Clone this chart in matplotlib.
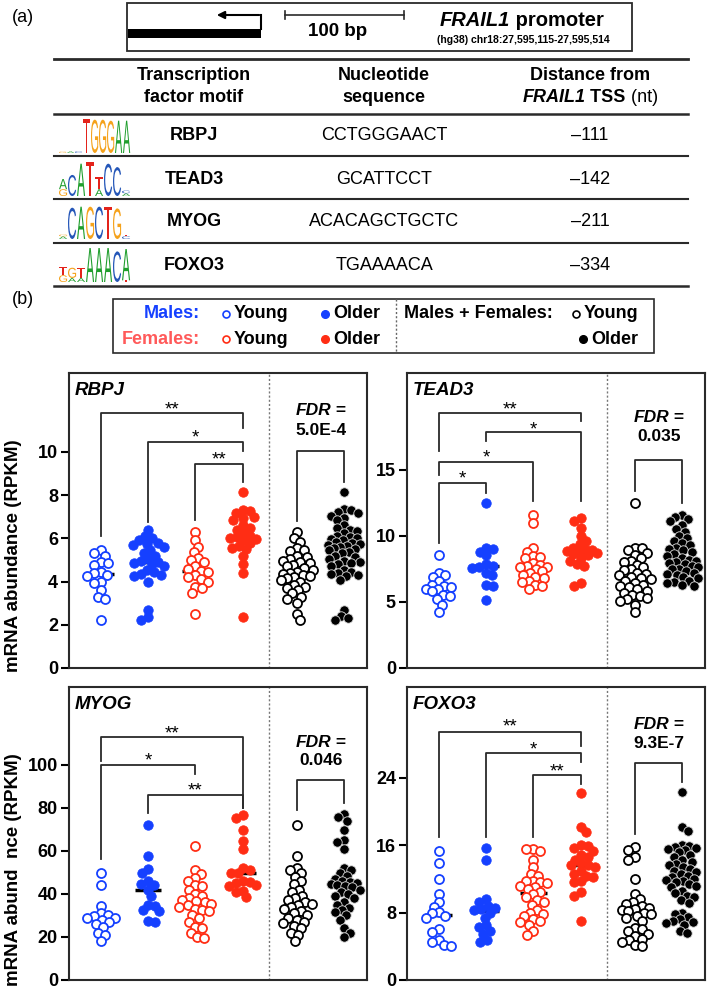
import numpy as np
import matplotlib
matplotlib.use("Agg")
import matplotlib.pyplot as plt
from matplotlib.textpath import TextPath
from matplotlib.patches import PathPatch, Rectangle
from matplotlib.font_manager import FontProperties
from matplotlib.transforms import Affine2D

plt.rcParams['font.family'] = ['Liberation Sans', 'DejaVu Sans']

# ---- table (a) ----
motifs = ['RBPJ', 'TEAD3', 'MYOG', 'FOXO3']
sequences = ['CCTGGGAACT', 'GCATTCCT', 'ACACAGCTGCTC', 'TGAAAACA']
distances = ['\u2013111', '\u2013142', '\u2013211', '\u2013334']

# sequence logos: columns of (letter, relative height), bottom to top
logos = [
    [[('G', .04)], [('A', .05)], [('C', .05)], [('T', 1.0)], [('G', .98)],
     [('G', .98)], [('G', .95)], [('A', .95)], [('A', .95)]],
    [[('G', .2), ('A', .3)], [('C', .62)], [('A', .95)], [('T', 1.0)],
     [('A', .2), ('T', .35)], [('C', .95)], [('C', .85)], [('A', .08), ('C', .08)]],
    [[('A', .08), ('G', .05)], [('C', .92)], [('A', .95)], [('G', .95)],
     [('C', .95)], [('T', .95)], [('G', .9)], [('C', .08), ('T', .05)]],
    [[('G', .2), ('T', .25)], [('A', .12), ('G', .3)], [('A', .12), ('T', .3)],
     [('A', 1.0)], [('A', 1.0)], [('A', 1.0)], [('C', .9)], [('T', .05), ('A', .92)]],
]

# ---- scatter data (b) ----
rbpj_m_young = [5.45, 5.3, 5.2, 4.9, 4.85, 4.75, 4.45, 4.4, 4.3, 4.25, 4.0, 3.95, 3.6, 3.3, 3.2, 2.2]
rbpj_m_older = [6.4, 6.1, 6.0, 5.9, 5.8, 5.75, 5.7, 5.6, 5.45, 5.3, 5.2, 5.05, 4.95, 4.9, 4.85,
                4.8, 4.7, 4.55, 4.45, 4.35, 4.3, 4.25, 4.0, 2.7, 2.35, 2.2]
rbpj_f_young = [6.3, 5.9, 5.6, 5.35, 5.1, 5.0, 4.9, 4.7, 4.6, 4.5, 4.45, 4.3, 4.2, 4.1, 4.0,
                3.75, 3.7, 3.45, 2.5]
rbpj_f_older = [8.15, 7.3, 7.25, 7.15, 7.0, 6.95, 6.85, 6.6, 6.5, 6.4, 6.25, 6.1, 6.05, 6.0,
                5.95, 5.9, 5.8, 5.65, 5.55, 5.5, 5.2, 4.8, 4.4, 2.35]
rbpj_a_young = [6.3, 6.0, 5.85, 5.55, 5.45, 5.4, 5.2, 5.15, 5.05, 4.95, 4.9, 4.85, 4.75, 4.7,
                4.65, 4.55, 4.45, 4.4, 4.35, 4.3, 4.25, 4.2, 4.15, 4.05, 4.0, 3.85, 3.75, 3.7,
                3.6, 3.45, 3.3, 3.2, 3.0, 2.5, 2.2]
rbpj_a_older = [8.15, 7.35, 7.3, 7.2, 7.15, 7.05, 6.95, 6.85, 6.6, 6.5, 6.4, 6.35, 6.25, 6.1,
                6.05, 6.0, 5.95, 5.9, 5.85, 5.8, 5.75, 5.7, 5.65, 5.6, 5.55, 5.5, 5.45, 5.35,
                5.3, 5.2, 5.15, 5.05, 4.95, 4.9, 4.85, 4.8, 4.7, 4.55, 4.45, 4.4, 4.35, 4.3,
                4.25, 4.05, 2.7, 2.4, 2.3, 2.2]

tead3_m_young = [8.55, 7.2, 7.0, 6.9, 6.55, 6.3, 6.2, 6.1, 6.0, 5.95, 5.8, 5.55, 5.45, 5.2, 4.8, 4.2]
tead3_m_older = [12.45, 9.1, 9.0, 8.8, 8.55, 7.85, 7.7, 7.65, 7.55, 7.2, 7.0, 6.3, 6.2, 5.15]
tead3_f_young = [11.6, 10.95, 9.1, 8.8, 8.5, 8.4, 8.3, 7.9, 7.8, 7.7, 7.65, 7.6, 7.5, 7.3, 7.2,
                 7.05, 6.85, 6.8, 6.6, 6.5, 6.3, 6.2, 6.0]
tead3_f_older = [11.35, 11.1, 10.6, 9.95, 9.6, 9.35, 9.1, 9.0, 8.95, 8.85, 8.8, 8.7, 8.6, 8.55,
                 8.3, 8.1, 7.85, 7.7, 6.4, 6.2]
tead3_a_young = [12.45, 9.1, 9.05, 8.95, 8.7, 8.55, 8.3, 8.1, 8.0, 7.8, 7.6, 7.5, 7.4, 7.2,
                 7.1, 7.0, 6.9, 6.8, 6.7, 6.55, 6.45, 6.3, 6.2, 6.1, 5.95, 5.85, 5.7, 5.55,
                 5.45, 5.3, 5.2, 5.1, 4.8, 4.2]
tead3_a_older = [11.6, 11.45, 11.3, 11.1, 10.8, 10.5, 10.3, 10.0, 9.8, 9.6, 9.45, 9.3, 9.1,
                 9.0, 8.9, 8.8, 8.6, 8.5, 8.3, 8.2, 8.1, 8.0, 7.95, 7.85, 7.7, 7.6, 7.5, 7.45,
                 7.3, 7.2, 7.1, 7.0, 6.9, 6.8, 6.6, 6.5, 6.4, 6.3, 6.2]

myog_m_young = [49.5, 44, 34.5, 31, 30, 29.5, 29, 29, 28, 27, 26, 24.5, 22, 21, 18]
myog_m_older = [72, 57.5, 51.5, 49.5, 46, 44.5, 44, 42, 39, 35, 34.5, 32.5, 32, 27.5, 27]
myog_f_young = [62, 51, 49, 47.5, 46, 44, 43.5, 42, 40, 39, 38, 37, 36.5, 36, 35.5, 35, 34,
                33, 32.5, 32, 30, 29, 27, 24.5, 24, 22, 20, 19.5]
myog_f_older = [76.5, 75, 69.5, 64.5, 61, 52, 51, 49.5, 49.5, 46, 45.5, 45, 44, 43.5, 41.5,
                41, 38.5]
myog_a_young = [72, 57.5, 52, 51, 49.5, 48, 46, 44.5, 42, 41, 39, 38, 37, 36, 35.5, 35, 34,
                33, 32, 31, 30, 29, 28, 27, 26.5, 25, 24, 22, 21, 18]
myog_a_older = [77, 75.5, 74, 69.5, 65, 64, 61, 52, 51, 49.5, 48.5, 47, 46, 45.5, 45, 44.5,
                44, 43.5, 43, 42, 41, 40, 39, 38, 36, 35, 33.5, 32.5, 31.5, 30, 28, 24, 22, 20]

foxo3_m_young = [15.3, 13.9, 12.0, 10.2, 9.3, 8.7, 8.1, 7.9, 7.6, 7.4, 6.0, 5.7, 4.8, 4.5, 4.2, 4.0]
foxo3_m_older = [15.7, 14.3, 9.6, 9.3, 8.8, 8.6, 8.4, 8.3, 8.0, 7.4, 6.5, 6.3, 5.8, 5.5, 4.8, 4.5]
foxo3_f_young = [15.6, 15.5, 15.3, 14.3, 13.4, 12.6, 12.4, 11.8, 11.7, 11.6, 11.5, 11.2, 11.0,
                 10.8, 10.4, 10.2, 9.9, 9.5, 9.3, 8.9, 8.3, 8.0, 7.8, 7.6, 7.2, 7.0, 6.9, 6.5,
                 5.8, 5.4]
foxo3_f_older = [22.2, 18.2, 17.6, 16.0, 15.9, 15.7, 15.3, 14.8, 14.6, 14.3, 13.9, 13.7, 13.6,
                 13.4, 13.0, 12.6, 12.4, 12.2, 11.8, 11.6, 10.4, 10.0, 7.0]
foxo3_a_young = [15.8, 15.4, 14.6, 14.2, 12.0, 10.2, 9.6, 9.3, 9.0, 8.8, 8.6, 8.4, 8.3, 8.2,
                 8.0, 7.8, 7.6, 7.4, 7.0, 6.2, 6.0, 5.8, 5.5, 5.2, 4.9, 4.7, 4.5, 4.2, 4.0]
foxo3_a_older = [22.3, 18.2, 17.7, 16.0, 15.9, 15.8, 15.7, 15.6, 15.4, 15.2, 14.8, 14.6, 14.3,
                 14.0, 13.8, 13.6, 13.4, 13.2, 13.0, 12.8, 12.6, 12.4, 12.2, 12.0, 11.9, 11.8,
                 11.6, 11.4, 11.2, 11.0, 10.6, 10.3, 10.0, 9.8, 9.5, 9.2, 8.0, 7.8, 7.5, 7.2,
                 7.0, 6.9, 6.8, 6.5, 5.8, 5.6]

fdr_values = ['5.0E-4', '0.035', '0.046', '9.3E-7']
y_tops = [13.65, 22.3, 136, 34.8]
y_ticks = [[0, 2, 4, 6, 8, 10], [0, 5, 10, 15], [0, 20, 40, 60, 80, 100], [0, 8, 16, 24]]

# brackets: (group a, group b, bar height, leg a end, leg b end, stars, star height)
brackets = [
    [(1, 4, 11.8, 6.1, 11.1, '**', 12.25), (2, 4, 10.45, 6.75, 10.05, '*', 10.95),
     (3, 4, 9.45, 6.85, 8.6, '**', 9.95)],
    [(1, 4, 19.3, 16.4, 18.65, '**', 20.05), (2, 4, 17.85, 17.15, 12.6, '*', 18.5),
     (1, 3, 15.6, 14.6, 12.6, '*', 16.4), (1, 2, 14.0, 9.45, 13.2, '*', 14.8)],
    [(1, 4, 112.7, 101.8, 79.9, '**', 117.6), (1, 3, 99.9, 56.0, 95.6, '*', 105.0),
     (2, 4, 86.1, 77.6, 79.9, '**', 91.1)],
    [(1, 4, 29.5, 17.0, 27.8, '**', 30.9), (2, 4, 27.0, 17.0, 25.9, '*', 28.2),
     (3, 4, 24.3, 17.0, 23.3, '**', 25.5)],
]
# FDR bracket: (bar height, leg young end, leg older end, "FDR =" height, value height)
fdr_brackets = [(10.05, 6.8, 8.6, 11.9, 11.0), (15.7, 13.35, 12.5, 18.9, 17.5),
                (93.0, 78.7, 82.2, 110.4, 101.8), (25.8, 17.4, 23.5, 30.4, 28.1)]

panel_data = [
    [rbpj_m_young, rbpj_m_older, rbpj_f_young, rbpj_f_older, rbpj_a_young, rbpj_a_older],
    [tead3_m_young, tead3_m_older, tead3_f_young, tead3_f_older, tead3_a_young, tead3_a_older],
    [myog_m_young, myog_m_older, myog_f_young, myog_f_older, myog_a_young, myog_a_older],
    [foxo3_m_young, foxo3_m_older, foxo3_f_young, foxo3_f_older, foxo3_a_young, foxo3_a_older],
]

BLUE = '#1540ff'
RED = '#ff2d14'
FEM = '#ff5a5a'
LINE = '#2a2a2a'
group_x = [1, 2, 3, 4, 5.15, 6.15]
group_col = [BLUE, BLUE, RED, RED, 'black', 'black']
group_fill = [False, True, False, True, False, True]
logo_colors = {'A': '#1f9e2c', 'C': '#2456b8', 'G': '#f5a21b', 'T': '#e3231b'}

W, H = 709, 991
fig = plt.figure(figsize=(W / 100, H / 100), dpi=100)
ov = fig.add_axes([0, 0, 1, 1])
ov.set_xlim(0, W)
ov.set_ylim(H, 0)
ov.axis('off')
renderer = fig.canvas.get_renderer()


def rich(x, y, parts, size, ha='center', **kw):
    # draw consecutive text pieces with different styles on one line
    texts = [ov.text(0, y, s, size=size, va='center', ha='left', **kw, **st) for s, st in parts]
    widths = [t.get_window_extent(renderer).width for t in texts]
    x0 = x - sum(widths) / 2 if ha == 'center' else x
    for t, w in zip(texts, widths):
        t.set_x(x0)
        x0 += w


BI = dict(weight='bold', style='italic')
B = dict(weight='bold')
TS = 13  # table font size
LS = 13  # legend font size

# ---- (a) promoter box ----
ov.text(12, 18, '(a)', size=13, va='center')
ov.add_patch(Rectangle((127, 3), 505, 48, fc='none', ec=LINE, lw=1.3))
ov.add_patch(Rectangle((128, 29), 133, 9, fc='black', ec='none'))
ov.plot([261, 261], [29, 15], color='black', lw=1.5)
ov.annotate('', xy=(214, 15), xytext=(262, 15),
            arrowprops=dict(arrowstyle='-|>', lw=1.5, color='black', mutation_scale=11))
ov.plot([285, 404], [15, 15], color=LINE, lw=1.2)
ov.plot([285, 285], [11, 19], color=LINE, lw=1.2)
ov.plot([404, 404], [11, 19], color=LINE, lw=1.2)
ov.text(338, 32, '100 bp', size=13.5, weight='bold', ha='center', va='center')
rich(522, 21, [('FRAIL1', BI), (' promoter', B)], 14.5)
ov.text(523, 40, '(hg38) chr18:27,595,115-27,595,514', size=7.6, weight='bold',
        ha='center', va='center')

# ---- table ----
for yl, lw in zip([59, 114, 156, 199, 243, 286], [2, 1.8, 1.5, 1.5, 1.5, 1.8]):
    ov.plot([54, 688], [yl, yl], color=LINE, lw=lw)
ov.text(194, 76, 'Transcription', size=TS, weight='bold', ha='center', va='center')
ov.text(194, 97, 'factor motif', size=TS, weight='bold', ha='center', va='center')
ov.text(384, 76, 'Nucleotide', size=TS, weight='bold', ha='center', va='center')
ov.text(384, 97, 'sequence', size=TS, weight='bold', ha='center', va='center')
ov.text(590, 76, 'Distance from', size=TS, weight='bold', ha='center', va='center')
rich(590, 97, [('FRAIL1', BI), (' TSS', B), (' (nt)', {})], TS)

row_y = [136, 179, 222, 265]
logo_font = FontProperties(family='Liberation Sans')
for i, yc in enumerate(row_y):
    ov.text(194, yc, motifs[i], size=TS, weight='bold', ha='center', va='center')
    ov.text(384, yc, sequences[i], size=TS, ha='center', va='center')
    ov.text(590, yc, distances[i], size=TS, ha='center', va='center')
    cols = logos[i]
    colw = 72 / len(cols)
    base = yc + 17
    for j, stack in enumerate(cols):
        yb = base
        for letter, frac in stack:
            h = frac * 34
            tp = TextPath((0, 0), letter, size=10, prop=logo_font)
            ext = tp.get_extents()
            tr = (Affine2D().translate(-ext.x0, -ext.y0)
                  .scale(colw * 0.9 / ext.width, -h / ext.height)
                  .translate(59 + j * colw, yb))
            ov.add_patch(PathPatch(tr.transform_path(tp), fc=logo_colors[letter], ec='none'))
            yb -= h

# ---- (b) legend ----
ov.text(12, 300, '(b)', size=13, va='center')
ov.add_patch(Rectangle((113, 299), 541, 54, fc='none', ec=LINE, lw=1.2))
ov.plot([396, 396], [299, 353], color='#666666', lw=1, ls=(0, (1.5, 1.5)))
for yy, lab, col in [(314, 'Males:', BLUE), (339, 'Females:', FEM)]:
    ov.text(200, yy, lab, size=LS, weight='bold', color=col, ha='right', va='center')
    pc = BLUE if col == BLUE else RED
    ov.plot(226, yy, 'o', ms=5, mfc='white', mec=pc, mew=1.2)
    ov.text(234, yy, 'Young', size=LS, weight='bold', ha='left', va='center')
    ov.plot(325, yy, 'o', ms=5.5, mfc=pc, mec=pc)
    ov.text(333, yy, 'Older', size=LS, weight='bold', ha='left', va='center')
ov.text(404, 314, 'Males + Females:', size=LS, weight='bold', ha='left', va='center')
ov.plot(576, 314, 'o', ms=5, mfc='white', mec='black', mew=1.2)
ov.text(584, 314, 'Young', size=LS, weight='bold', ha='left', va='center')
ov.plot(583, 339, 'o', ms=5.5, mfc='black', mec='black')
ov.text(591, 339, 'Older', size=LS, weight='bold', ha='left', va='center')

ov.text(14, 556, 'mRNA abundance (RPKM)', size=13.5, weight='bold', rotation=90,
        ha='center', va='center')
ov.text(14, 870, 'mRNA abund  nce (RPKM)', size=13.5, weight='bold', rotation=90,
        ha='center', va='center')

# ---- panels: (left px, top px, height px) ----
panel_px = [(69, 373, 295), (407, 373, 295), (69, 687, 293), (407, 687, 293)]


def swarm(ax, x0, vals, diam, maxoff):
    # simple beeswarm in pixel space, offsets capped at maxoff pixels
    ys = ax.transData.transform(np.column_stack([np.full(len(vals), x0), vals]))[:, 1]
    ppx = ax.transData.transform((1, 0))[0] - ax.transData.transform((0, 0))[0]
    n_st = int(maxoff / 0.5)
    steps = np.repeat(np.arange(1, n_st + 1) * 0.5, 2) * np.tile([1, -1], n_st)
    placed_x, placed_y = [], []
    offs = np.zeros(len(vals))
    for n, i in enumerate(np.argsort(-ys)):
        cands = np.concatenate([[0.0], steps * (-1 if n % 2 else 1)])
        if placed_x:
            px = np.array(placed_x)
            py = np.array(placed_y)
            d2 = (cands[:, None] - px[None, :]) ** 2 + (ys[i] - py[None, :]) ** 2
            mind = d2.min(axis=1)
            ok = np.where(mind >= diam ** 2)[0]
            best = cands[ok[0]] if len(ok) else cands[np.argmax(mind)]
        else:
            best = 0.0
        offs[i] = best
        placed_x.append(best)
        placed_y.append(ys[i])
    return x0 + offs / ppx


for p in range(4):
    lx, ty, ph = panel_px[p]
    ax = fig.add_axes([lx / W, 1 - (ty + ph) / H, 298 / W, ph / H])
    ax.set_xlim(0.33, 6.63)
    ax.set_ylim(0, y_tops[p])
    ax.set_xticks([])
    ax.set_yticks(y_ticks[p])
    ax.set_yticklabels([str(t) for t in y_ticks[p]], fontsize=13, fontweight='bold')
    ax.tick_params(axis='y', direction='out', length=6, width=1.5, pad=2)
    for s in ax.spines.values():
        s.set_linewidth(1.5)
        s.set_color(LINE)
    ax.patch.set_alpha(0)
    ax.axvline(4.56, color='#777777', lw=1, ls=(0, (1.5, 1.5)))
    ax.text(0.45, y_tops[p] * 0.968, motifs[p], fontsize=13.5, ha='left', va='top', **BI)

    for g in range(6):
        vals = np.array(panel_data[p][g], dtype=float)
        xs = swarm(ax, group_x[g], vals, 7.0, 16)
        med = np.median(vals)
        ax.plot([group_x[g] - 0.28, group_x[g] + 0.28], [med, med], color='black',
                lw=2.5, zorder=2, solid_capstyle='butt')
        col = group_col[g]
        if group_fill[g]:
            ec = '#dddddd' if col == 'black' else col
            ax.scatter(xs, vals, s=46, c=col, edgecolors=ec, linewidths=0.6, zorder=3)
        else:
            ax.scatter(xs, vals, s=42, facecolors='white', edgecolors=col,
                       linewidths=1.3, zorder=3)

    for xa, xb, yb, ya, yb2, lab, ly in brackets[p]:
        ax.plot([xa, xa, xb, xb], [ya, yb, yb, yb2], color=LINE, lw=1.3, zorder=4)
        ax.annotate(lab, ((xa + xb) / 2, ly), xytext=(0, -5), textcoords='offset points',
                    ha='center', va='center', fontsize=13.5)
    yb, ya, yb2, yf, yv = fdr_brackets[p]
    ax.plot([5.15, 5.15, 6.15, 6.15], [ya, yb, yb, yb2], color=LINE, lw=1.3)
    fx, fy = ax.transData.transform((5.65, yf))
    rich(fx, H - fy, [('FDR', BI), (' =', B)], 12.5)
    ax.text(5.65, yv, fdr_values[p], fontsize=12.5, fontweight='bold', ha='center', va='center')

fig.savefig('out.png', dpi=100)
